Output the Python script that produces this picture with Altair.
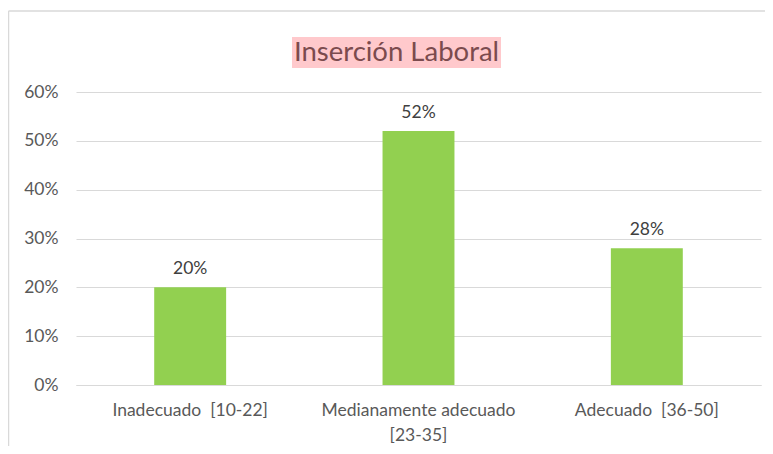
import altair as alt
import pandas as pd

categories = ["Inadecuado  [10-22]", "Medianamente adecuado [23-35]", "Adecuado  [36-50]"]
values = [0.20, 0.52, 0.28]
title_text = ["Inserción Laboral"]
y_ticks = [0, 0.1, 0.2, 0.3, 0.4, 0.5, 0.6]

df = pd.DataFrame({"cat": categories, "val": values})
tdf = pd.DataFrame({"t": title_text})

W, H = 685, 293
FONT = "Lato"
FS = 17.5

x = alt.X(
    "cat:N", sort=categories, title=None,
    scale=alt.Scale(paddingInner=0.685, paddingOuter=0.3425),
    axis=alt.Axis(
        labelAngle=0, labelFont=FONT, labelFontSize=FS, labelColor="#595959",
        labelPadding=16, labelLineHeight=25, ticks=False, domain=True,
        domainColor="#D9D9D9", labelLimit=300,
        labelExpr="datum.label == 'Medianamente adecuado [23-35]' ? ['Medianamente adecuado', '[23-35]'] : replace(datum.label, '  ', ' \u00a0')",
    ),
)
y = alt.Y(
    "val:Q", title=None,
    scale=alt.Scale(domain=[0, 0.6], nice=False),
    axis=alt.Axis(
        values=y_ticks, format=".0%", labelFont=FONT, labelFontSize=FS,
        labelColor="#595959", labelPadding=18, ticks=False, domain=False,
        grid=True, gridColor="#D9D9D9", gridWidth=1,
    ),
)

bars = alt.Chart(df).mark_bar(color="#92D050").encode(x=x, y=y)
labels = alt.Chart(df).mark_text(
    font=FONT, fontSize=FS, color="#404040", baseline="bottom", dy=-9
).encode(x=alt.X("cat:N", sort=categories), y="val:Q", text=alt.Text("val:Q", format=".0%"))

border_left = alt.Chart(tdf).mark_rule(stroke="#D9D9D9", strokeWidth=1.5).encode(
    x=alt.value(-67.5), y=alt.value(-81), y2=alt.value(H + 100)
)
border_top = alt.Chart(tdf).mark_rule(stroke="#D9D9D9", strokeWidth=1.5).encode(
    x=alt.value(-67.5), x2=alt.value(W + 4), y=alt.value(-81)
)
highlight = alt.Chart(tdf).mark_rect(fill="#FFC9CC").encode(
    x=alt.value(216), x2=alt.value(425), y=alt.value(-55), y2=alt.value(-24)
)
title = alt.Chart(tdf).mark_text(
    font=FONT, fontSize=27.5, color="#7B4B4E", baseline="alphabetic", align="center"
).encode(x=alt.value(320.5), y=alt.value(-31), text="t:N")

chart = alt.layer(border_left, border_top, highlight, bars, labels, title).properties(
    width=W, height=H,
    autosize=alt.AutoSizeParams(type="none"),
    padding={"left": 68, "top": 84, "right": 4, "bottom": 61},
).configure_view(stroke=None)

chart.save("out.html", embed_options={"renderer": "svg", "actions": False})
